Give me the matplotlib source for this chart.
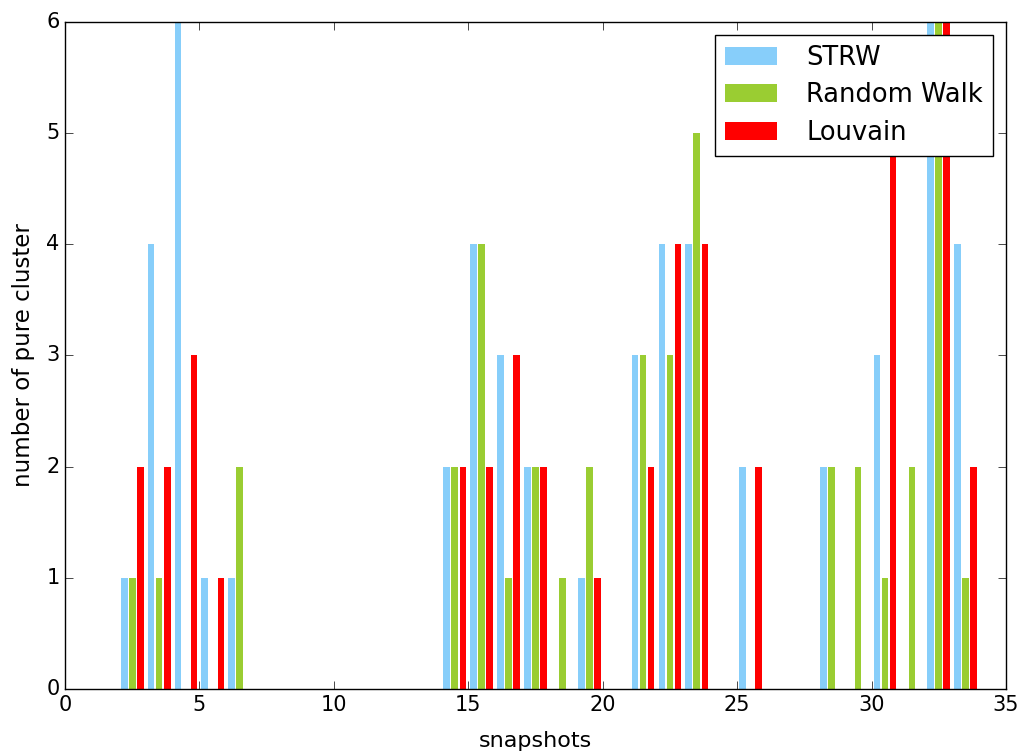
import matplotlib
matplotlib.use("Agg")
import matplotlib.pyplot as plt
import numpy as np

plt.style.use("classic")
plt.rcParams["font.family"] = ["DejaVu Sans"]

# snapshot index and number of pure clusters per method
snapshots = np.arange(1, 34)
strw = [0, 1, 4, 6, 1, 1, 0, 0, 0, 0, 0, 0, 0, 2, 4, 3, 2, 0, 1, 0,
        3, 4, 4, 0, 2, 0, 0, 2, 0, 3, 0, 6, 4]
random_walk = [0, 1, 1, 0, 0, 2, 0, 0, 0, 0, 0, 0, 0, 2, 4, 1, 2, 1, 2, 0,
               3, 3, 5, 0, 0, 0, 0, 2, 2, 1, 2, 6, 1]
louvain = [0, 2, 2, 3, 1, 0, 0, 0, 0, 0, 0, 0, 0, 2, 2, 3, 2, 0, 1, 0,
           2, 4, 4, 0, 2, 0, 0, 0, 0, 5, 0, 6, 2]

series = [("STRW", strw, "lightskyblue"),
          ("Random Walk", random_walk, "yellowgreen"),
          ("Louvain", louvain, "red")]
offsets = [0.2, 0.5, 0.8]
width = 0.25

fig = plt.figure(figsize=(10.21, 7.51), dpi=100)
fig.patch.set_facecolor("white")
ax = fig.add_axes([65 / 1021, 1 - 689 / 751, 941 / 1021, (689 - 21.7) / 751])

for (name, vals, col), off in zip(series, offsets):
    ax.bar(snapshots + off, vals, width, align="center", color=col,
           edgecolor="none", linewidth=0, label=name)

ax.set_xlim(0, 35)
ax.set_ylim(0, 6)
ax.set_xticks(np.arange(0, 36, 5))
ax.set_yticks(np.arange(0, 7, 1))
ax.tick_params(labelsize=15, length=5.5, direction="in", top=True, right=True)
ax.set_xlabel("snapshots", fontsize=16, labelpad=12)
ax.set_ylabel("number of pure cluster", fontsize=16.5, labelpad=8)

leg = ax.legend(loc="upper right", fontsize=18.5, fancybox=False,
                shadow=False, frameon=True, labelspacing=0.45,
                handlelength=2.0, handletextpad=1.15, borderpad=0.4,
                borderaxespad=0.5)
leg.get_frame().set_edgecolor("black")

fig.savefig("out.png", dpi=100, facecolor="white")
